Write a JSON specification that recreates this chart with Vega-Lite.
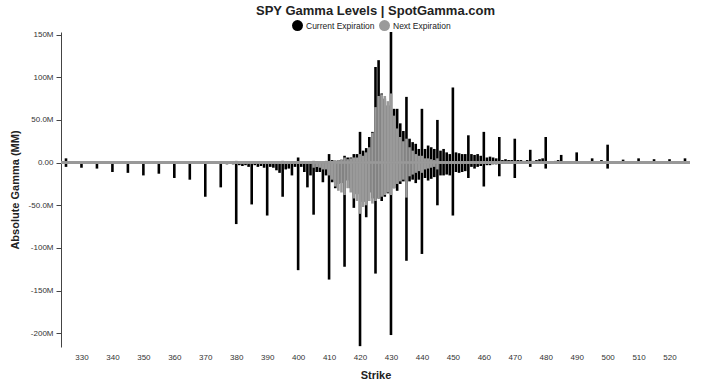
{
  "$schema": "https://vega.github.io/schema/vega-lite/v6.json",
  "width": 629,
  "height": 315,
  "autosize": {"type": "none"},
  "padding": {"left": 61, "top": 32, "right": 30, "bottom": 36},
  "background": "white",
  "title": {"text": "SPY Gamma Levels | SpotGamma.com", "font": "Liberation Sans", "fontSize": 13, "fontWeight": "bold", "color": "#222", "anchor": "middle", "frame": "group", "offset": 2},
  "config": {"view": {"stroke": null}, "font": "Liberation Sans"},
  "datasets": {
    "g": [
      {"s":325,"e":"C","v":5},{"s":325,"e":"C","v":-5},{"s":330,"e":"C","v":1},{"s":330,"e":"C","v":-6},
      {"s":335,"e":"C","v":1},{"s":335,"e":"C","v":-7},{"s":340,"e":"C","v":1},{"s":340,"e":"C","v":-11},
      {"s":345,"e":"C","v":1},{"s":345,"e":"C","v":-12},{"s":350,"e":"C","v":1},{"s":350,"e":"C","v":-15},
      {"s":355,"e":"C","v":1},{"s":355,"e":"C","v":-13},{"s":360,"e":"C","v":1},{"s":360,"e":"C","v":-18},
      {"s":365,"e":"C","v":1},{"s":365,"e":"C","v":-20},{"s":370,"e":"C","v":1},{"s":370,"e":"C","v":-40},
      {"s":375,"e":"C","v":1},{"s":375,"e":"C","v":-29},{"s":376,"e":"C","v":-1},{"s":377,"e":"C","v":-2},
      {"s":378,"e":"C","v":-1},{"s":379,"e":"C","v":-2},{"s":380,"e":"C","v":2},{"s":380,"e":"C","v":-72},
      {"s":381,"e":"C","v":1},{"s":381,"e":"C","v":-3},{"s":382,"e":"C","v":-4},{"s":383,"e":"C","v":-3},
      {"s":384,"e":"C","v":-5},{"s":385,"e":"C","v":1},{"s":385,"e":"C","v":-49},{"s":386,"e":"C","v":-3},
      {"s":387,"e":"C","v":-5},{"s":388,"e":"C","v":-4},{"s":389,"e":"C","v":-6},{"s":390,"e":"C","v":1},
      {"s":390,"e":"C","v":-62},{"s":391,"e":"C","v":-5},{"s":392,"e":"C","v":-6},{"s":393,"e":"C","v":-9},
      {"s":394,"e":"C","v":-12},{"s":395,"e":"C","v":2},{"s":395,"e":"C","v":-40},{"s":396,"e":"C","v":1},
      {"s":396,"e":"C","v":-8},{"s":397,"e":"C","v":-7},{"s":398,"e":"C","v":-15},{"s":399,"e":"C","v":-5},
      {"s":400,"e":"C","v":6},{"s":400,"e":"C","v":-126},{"s":401,"e":"C","v":1},{"s":401,"e":"C","v":-5},
      {"s":402,"e":"C","v":-11},{"s":403,"e":"C","v":-29},{"s":404,"e":"C","v":-15},{"s":405,"e":"C","v":2},
      {"s":405,"e":"C","v":-61},{"s":406,"e":"C","v":2},{"s":406,"e":"C","v":-11},{"s":407,"e":"C","v":1},
      {"s":407,"e":"C","v":-11},{"s":408,"e":"C","v":1},{"s":408,"e":"C","v":-23},{"s":409,"e":"C","v":2},
      {"s":409,"e":"C","v":-15},{"s":410,"e":"C","v":10},{"s":410,"e":"C","v":-137},{"s":411,"e":"C","v":3},
      {"s":411,"e":"C","v":-23},{"s":412,"e":"C","v":2},{"s":412,"e":"C","v":-30},{"s":413,"e":"C","v":3},
      {"s":413,"e":"C","v":-25},{"s":414,"e":"C","v":3},{"s":414,"e":"C","v":-24},{"s":415,"e":"C","v":8},
      {"s":415,"e":"C","v":-122},{"s":416,"e":"C","v":6},{"s":416,"e":"C","v":-21},{"s":417,"e":"C","v":6},
      {"s":417,"e":"C","v":-30},{"s":418,"e":"C","v":10},{"s":418,"e":"C","v":-53},{"s":419,"e":"C","v":10},
      {"s":419,"e":"C","v":-37},{"s":420,"e":"C","v":36},{"s":420,"e":"C","v":-215},{"s":421,"e":"C","v":14},
      {"s":421,"e":"C","v":-46},{"s":422,"e":"C","v":17},{"s":422,"e":"C","v":-64},{"s":423,"e":"C","v":30},
      {"s":423,"e":"C","v":-35},{"s":424,"e":"C","v":36},{"s":424,"e":"C","v":-42},{"s":425,"e":"C","v":112},
      {"s":425,"e":"C","v":-130},{"s":426,"e":"C","v":120},{"s":426,"e":"C","v":-42},{"s":427,"e":"C","v":81},
      {"s":427,"e":"C","v":-45},{"s":428,"e":"C","v":75},{"s":428,"e":"C","v":-40},{"s":429,"e":"C","v":67},
      {"s":429,"e":"C","v":-36},{"s":430,"e":"C","v":153},{"s":430,"e":"C","v":-202},{"s":431,"e":"C","v":63},
      {"s":431,"e":"C","v":-30},{"s":432,"e":"C","v":63},{"s":432,"e":"C","v":-33},{"s":433,"e":"C","v":46},
      {"s":433,"e":"C","v":-25},{"s":434,"e":"C","v":37},{"s":434,"e":"C","v":-22},{"s":435,"e":"C","v":77},
      {"s":435,"e":"C","v":-115},{"s":436,"e":"C","v":28},{"s":436,"e":"C","v":-22},{"s":437,"e":"C","v":24},
      {"s":437,"e":"C","v":-20},{"s":438,"e":"C","v":22},{"s":438,"e":"C","v":-24},{"s":439,"e":"C","v":16},
      {"s":439,"e":"C","v":-20},{"s":440,"e":"C","v":63},{"s":440,"e":"C","v":-107},{"s":441,"e":"C","v":16},
      {"s":441,"e":"C","v":-18},{"s":442,"e":"C","v":20},{"s":442,"e":"C","v":-21},{"s":443,"e":"C","v":18},
      {"s":443,"e":"C","v":-19},{"s":444,"e":"C","v":16},{"s":444,"e":"C","v":-17},{"s":445,"e":"C","v":50},
      {"s":445,"e":"C","v":-50},{"s":446,"e":"C","v":14},{"s":446,"e":"C","v":-15},{"s":447,"e":"C","v":16},
      {"s":447,"e":"C","v":-15},{"s":448,"e":"C","v":12},{"s":448,"e":"C","v":-14},{"s":449,"e":"C","v":10},
      {"s":449,"e":"C","v":-15},{"s":450,"e":"C","v":88},{"s":450,"e":"C","v":-62},{"s":451,"e":"C","v":12},
      {"s":451,"e":"C","v":-11},{"s":452,"e":"C","v":11},{"s":452,"e":"C","v":-12},{"s":453,"e":"C","v":10},
      {"s":453,"e":"C","v":-11},{"s":454,"e":"C","v":10},{"s":454,"e":"C","v":-10},{"s":455,"e":"C","v":32},
      {"s":455,"e":"C","v":-18},{"s":456,"e":"C","v":10},{"s":456,"e":"C","v":-5},{"s":457,"e":"C","v":9},
      {"s":457,"e":"C","v":-7},{"s":458,"e":"C","v":10},{"s":458,"e":"C","v":-5},{"s":459,"e":"C","v":8},
      {"s":459,"e":"C","v":-4},{"s":460,"e":"C","v":36},{"s":460,"e":"C","v":-28},{"s":461,"e":"C","v":6},
      {"s":461,"e":"C","v":-3},{"s":462,"e":"C","v":7},{"s":462,"e":"C","v":-3},{"s":463,"e":"C","v":6},
      {"s":463,"e":"C","v":-2},{"s":464,"e":"C","v":5},{"s":464,"e":"C","v":-2},{"s":465,"e":"C","v":30},
      {"s":465,"e":"C","v":-16},{"s":466,"e":"C","v":3},{"s":466,"e":"C","v":-1},{"s":467,"e":"C","v":4},
      {"s":467,"e":"C","v":-1},{"s":468,"e":"C","v":3},{"s":469,"e":"C","v":3},{"s":470,"e":"C","v":28},
      {"s":470,"e":"C","v":-18},{"s":471,"e":"C","v":3},{"s":472,"e":"C","v":3},{"s":473,"e":"C","v":2},
      {"s":474,"e":"C","v":3},{"s":475,"e":"C","v":15},{"s":475,"e":"C","v":-5},{"s":476,"e":"C","v":2},
      {"s":477,"e":"C","v":3},{"s":478,"e":"C","v":4},{"s":479,"e":"C","v":5},{"s":480,"e":"C","v":30},
      {"s":480,"e":"C","v":-7},{"s":481,"e":"C","v":1},{"s":482,"e":"C","v":1},{"s":483,"e":"C","v":2},
      {"s":484,"e":"C","v":3},{"s":485,"e":"C","v":9},{"s":485,"e":"C","v":-1},{"s":487,"e":"C","v":1},
      {"s":490,"e":"C","v":12},{"s":490,"e":"C","v":-1},{"s":492,"e":"C","v":1},{"s":495,"e":"C","v":5},
      {"s":498,"e":"C","v":3},{"s":500,"e":"C","v":21},{"s":500,"e":"C","v":-7},{"s":505,"e":"C","v":3.5},
      {"s":510,"e":"C","v":5},{"s":515,"e":"C","v":4},{"s":520,"e":"C","v":4},{"s":520,"e":"C","v":-1},
      {"s":525,"e":"C","v":5},{"s":525,"e":"C","v":-1},
      {"s":405,"e":"N","v":1},{"s":405,"e":"N","v":-6},{"s":406,"e":"N","v":-5},{"s":407,"e":"N","v":-6},
      {"s":408,"e":"N","v":-8},{"s":409,"e":"N","v":-8},{"s":410,"e":"N","v":2},{"s":410,"e":"N","v":-15},
      {"s":411,"e":"N","v":2},{"s":411,"e":"N","v":-20},{"s":412,"e":"N","v":3},{"s":412,"e":"N","v":-28},
      {"s":413,"e":"N","v":3},{"s":413,"e":"N","v":-33},{"s":414,"e":"N","v":4},{"s":414,"e":"N","v":-35},
      {"s":415,"e":"N","v":6},{"s":415,"e":"N","v":-38},{"s":416,"e":"N","v":4},{"s":416,"e":"N","v":-30},
      {"s":417,"e":"N","v":5},{"s":417,"e":"N","v":-35},{"s":418,"e":"N","v":6},{"s":418,"e":"N","v":-42},
      {"s":419,"e":"N","v":6},{"s":419,"e":"N","v":-45},{"s":420,"e":"N","v":10},{"s":420,"e":"N","v":-60},
      {"s":421,"e":"N","v":8},{"s":421,"e":"N","v":-52},{"s":422,"e":"N","v":12},{"s":422,"e":"N","v":-50},
      {"s":423,"e":"N","v":18},{"s":423,"e":"N","v":-45},{"s":424,"e":"N","v":35},{"s":424,"e":"N","v":-48},
      {"s":425,"e":"N","v":65},{"s":425,"e":"N","v":-45},{"s":426,"e":"N","v":78},{"s":426,"e":"N","v":-42},
      {"s":427,"e":"N","v":80},{"s":427,"e":"N","v":-40},{"s":428,"e":"N","v":78},{"s":428,"e":"N","v":-38},
      {"s":429,"e":"N","v":72},{"s":429,"e":"N","v":-35},{"s":430,"e":"N","v":81},{"s":430,"e":"N","v":-38},
      {"s":431,"e":"N","v":55},{"s":431,"e":"N","v":-30},{"s":432,"e":"N","v":40},{"s":432,"e":"N","v":-25},
      {"s":433,"e":"N","v":30},{"s":433,"e":"N","v":-22},{"s":434,"e":"N","v":25},{"s":434,"e":"N","v":-20},
      {"s":435,"e":"N","v":28},{"s":435,"e":"N","v":-41},{"s":436,"e":"N","v":18},{"s":436,"e":"N","v":-16},
      {"s":437,"e":"N","v":14},{"s":437,"e":"N","v":-14},{"s":438,"e":"N","v":10},{"s":438,"e":"N","v":-12},
      {"s":439,"e":"N","v":8},{"s":439,"e":"N","v":-10},{"s":440,"e":"N","v":8},{"s":440,"e":"N","v":-12},
      {"s":441,"e":"N","v":5},{"s":441,"e":"N","v":-8},{"s":442,"e":"N","v":5},{"s":442,"e":"N","v":-7},
      {"s":443,"e":"N","v":4},{"s":443,"e":"N","v":-6},{"s":444,"e":"N","v":3},{"s":444,"e":"N","v":-5},
      {"s":445,"e":"N","v":5},{"s":445,"e":"N","v":-8}
    ]
  },
  "data": {"name": "g"},
  "layer": [
    {
      "mark": {"type": "bar", "size": 2.6},
      "encoding": {
        "x": {
          "field": "s", "type": "quantitative",
          "scale": {"domain": [325, 525], "nice": false, "zero": false},
          "axis": {"title": "Strike", "values": [330,340,350,360,370,380,390,400,410,420,430,440,450,460,470,480,490,500,510,520], "format": "d", "domain": false, "ticks": false, "grid": false, "labelFontSize": 8, "labelColor": "#333", "labelPadding": 6, "titleFontSize": 11, "titleFontWeight": "bold", "titleColor": "#222", "titlePadding": 8}
        },
        "y": {
          "field": "v", "type": "quantitative", "stack": null,
          "scale": {"domain": [-216, 153], "nice": false, "zero": false},
          "axis": {"title": "Absolute Gamma (MM)", "values": [-200,-150,-100,-50,0,50,100,150], "labelExpr": "replace(format(datum.value * 1000000, '.3s'), '\u2212', '-')", "grid": false, "domainColor": "#444", "tickColor": "#444", "tickSize": 5, "labelFontSize": 8, "labelColor": "#333", "labelPadding": 3, "titleFontSize": 11, "titleFontWeight": "bold", "titleColor": "#222", "titlePadding": 8}
        },
        "y2": {"datum": 0},
        "color": {
          "field": "e", "type": "nominal",
          "scale": {"domain": ["C", "N"], "range": ["#000000", "#9a9a9a"]},
          "legend": {"title": null, "orient": "none", "legendX": 231, "legendY": -12, "direction": "horizontal", "symbolType": "circle", "symbolSize": 120, "symbolStrokeWidth": 0, "labelFontSize": 8.5, "labelColor": "#222", "labelExpr": "datum.label == 'C' ? 'Current Expiration' : 'Next Expiration'", "columnPadding": 4, "labelOffset": 3}
        }
      }
    },
    {
      "mark": {"type": "rule", "color": "#999999", "strokeWidth": 1.5},
      "encoding": {"y": {"datum": 0}}
    }
  ]
}
